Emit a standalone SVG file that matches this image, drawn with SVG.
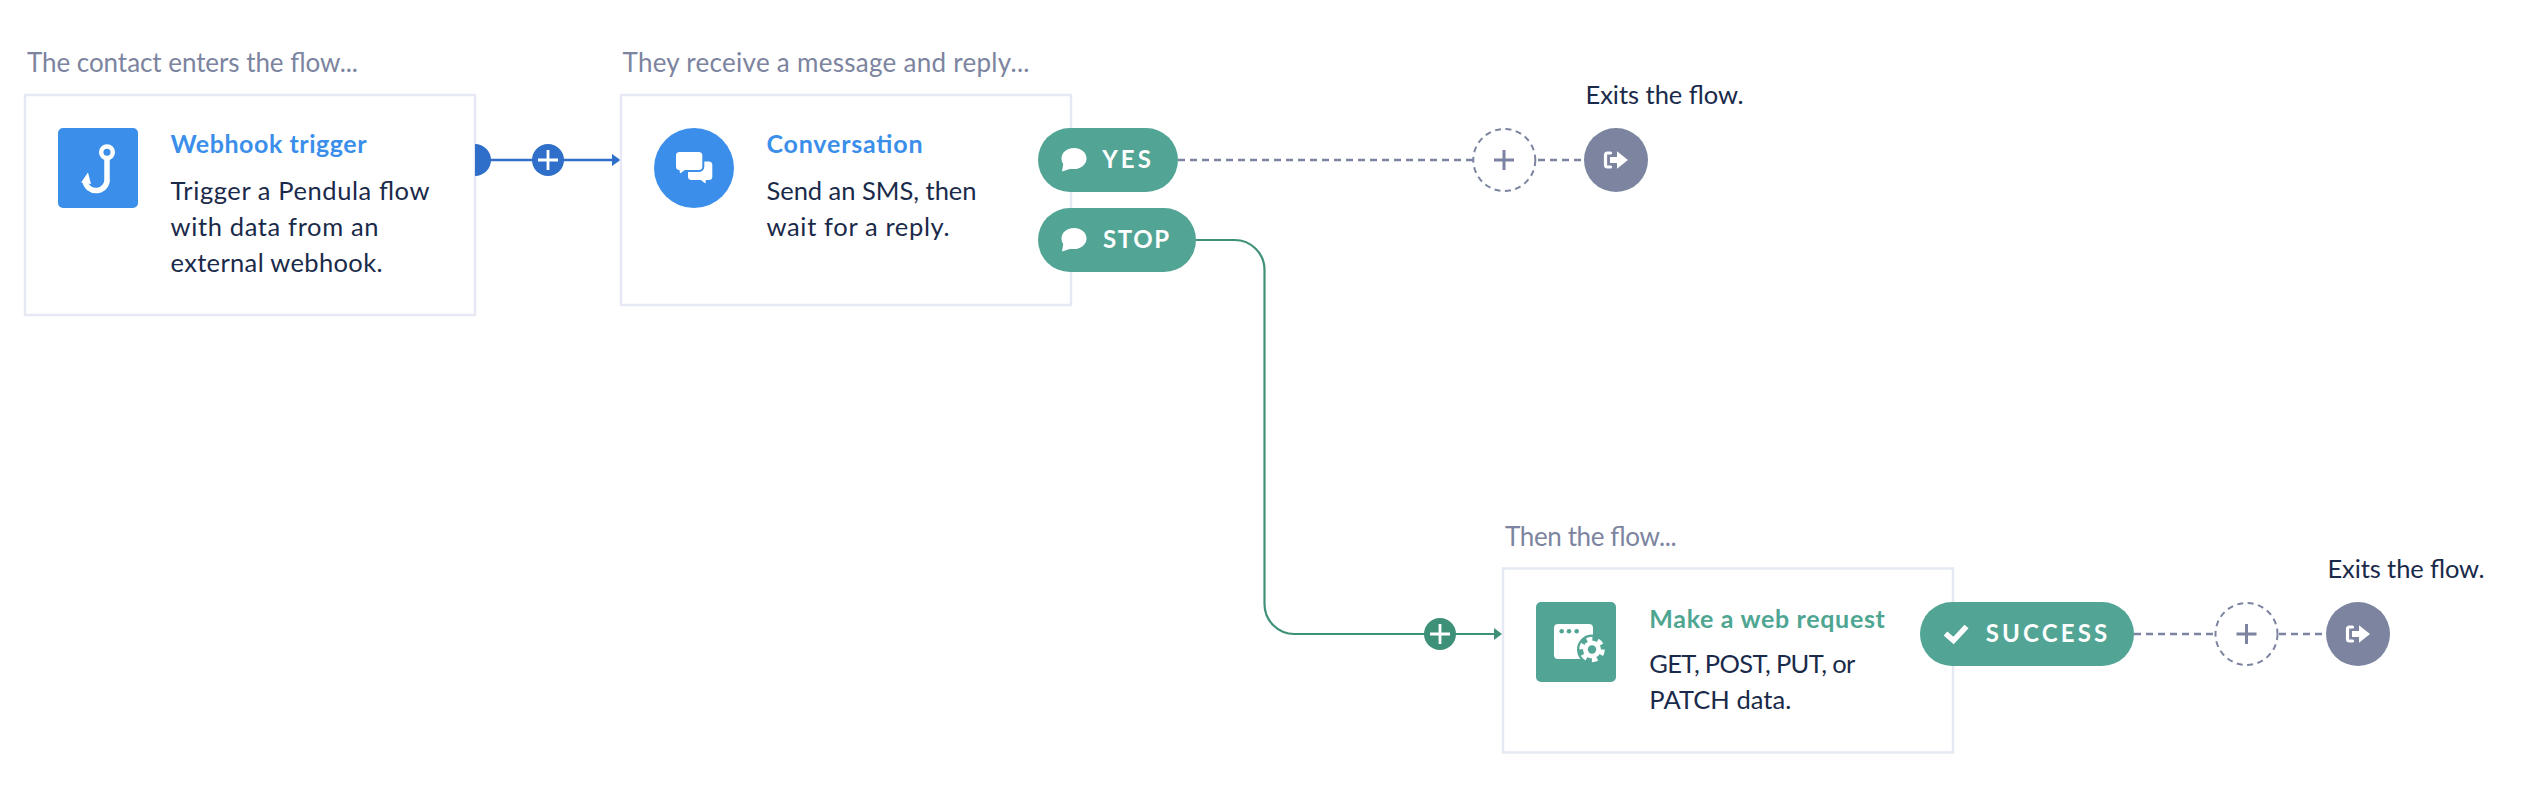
<svg xmlns="http://www.w3.org/2000/svg" width="2532" height="800" viewBox="0 0 2532 800">
<style>
text{font-family:"Lato","Open Sans","Liberation Sans",sans-serif;font-size:25.5px}
.cap{fill:#7c84a0;font-size:26px}
.body{fill:#1a2a4a}
.title{font-weight:700;font-size:25px}
.blue{fill:#3b8fea}
.tgreen{fill:#4ea692}
.box{fill:#fff;stroke:#e6e9f3;stroke-width:2.5}
.pill{fill:#52a595}
.ptxt{fill:#fff;font-weight:700;font-size:24px}
.exit{fill:#7c84a0}
.solidb{fill:none;stroke:#2f6fc9;stroke-width:2.5}
.solidg{fill:none;stroke:#3f9079;stroke-width:2.2}
.dash{fill:none;stroke:#7c84a0;stroke-width:2.5;stroke-dasharray:7 5}
.dcirc{fill:#fff;stroke:#7c84a0;stroke-width:2;stroke-dasharray:6 4.5}
.plusg{stroke:#7c84a0;stroke-width:3;fill:none}
.plusw{stroke:#fff;stroke-width:2.8;fill:none}
</style>
<defs>
<g id="bubble"><ellipse cx="0" cy="-1" rx="12.5" ry="10.5" fill="#fff"/><path d="M-10.5,3 L-12,12 L-1,8.5 Z" fill="#fff"/></g>
<g id="exiticon"><path d="M-5.5,-7 H-8.5 Q-10.5,-7 -10.5,-5 V5 Q-10.5,7 -8.5,7 H-5.5" fill="none" stroke="#fff" stroke-width="3.2" stroke-linecap="round"/><path d="M-6,-2.9 H1 V-8.8 L12,0 L1,8.8 V2.9 H-6 Z" fill="#fff"/></g>
<path id="plus" d="M-10,0 H10 M0,-10 V10"/>
</defs>
<rect width="2532" height="800" fill="#fff"/>

<g id="connectors">
<path class="solidb" d="M490,160 H613"/>
<path d="M612,154 L620.5,160 L612,166 Z" fill="#2f6fc9"/>
<path class="dash" d="M1178,160 H1473"/>
<path class="dash" d="M1538,160 H1581"/>
<path class="solidg" d="M1196,240 H1234.5 A30,30 0 0 1 1264.5,270 V604 A30,30 0 0 0 1294.5,634 H1495"/>
<path d="M1494,628 L1502,634 L1494,640 Z" fill="#3f9079"/>
<path class="dash" d="M2134,634 H2215"/>
<path class="dash" d="M2279,634 H2326"/>
</g>

<g id="node-webhook">
<text class="cap" x="27" y="72" textLength="331">The contact enters the flow...</text>
<rect class="box" x="25" y="95" width="450" height="220"/>
<rect x="58" y="128" width="80" height="80" rx="5" fill="#3b8fea"/>
<circle cx="107" cy="152.3" r="5.8" fill="none" stroke="#fff" stroke-width="4.5"/>
<path d="M107,158 V178 A11,11 0 0 1 85,181" fill="none" stroke="#fff" stroke-width="5.5"/>
<path d="M81,182.5 L88,172.5 L91,184 Z" fill="#fff"/>
<text class="title blue" x="170.5" y="153" textLength="196">Webhook trigger</text>
<text class="body" x="170.5" y="200" textLength="259">Trigger a Pendula flow</text>
<text class="body" x="170.5" y="236" textLength="208">with data from an</text>
<text class="body" x="170.5" y="272" textLength="212">external webhook.</text>
<path d="M475,144 A16,16 0 0 1 475,176 Z" fill="#2f6fc9"/>
</g>

<g id="add-1">
<circle cx="548" cy="160" r="16" fill="#2f6fc9"/>
<use href="#plus" x="548" y="160" class="plusw"/>
</g>

<g id="node-conversation">
<text class="cap" x="622.5" y="72" textLength="407">They receive a message and reply...</text>
<rect class="box" x="621" y="95" width="450" height="210"/>
<circle cx="694" cy="168" r="40" fill="#3b8fea"/>
<rect x="688" y="161.5" width="24.3" height="18.5" rx="3.5" fill="#fff"/>
<path d="M698,178 L705.5,183.5 L706,178 Z" fill="#fff"/>
<rect x="675" y="151" width="28.3" height="20" rx="4.5" fill="#fff" stroke="#3b8fea" stroke-width="2"/>
<path d="M679.5,170 L680,173.5 L685,170 Z" fill="#fff"/>
<text class="title blue" x="766.5" y="153" textLength="156">Conversation</text>
<text class="body" x="766.5" y="200" textLength="210">Send an SMS, then</text>
<text class="body" x="766.5" y="236" textLength="183">wait for a reply.</text>
</g>

<g id="branch-yes">
<rect class="pill" x="1038" y="128" width="140" height="64" rx="32"/>
<use href="#bubble" x="1074" y="159.5"/>
<text class="ptxt" x="1102.3" y="168.3" textLength="48.5">YES</text>
</g>

<g id="branch-stop">
<rect class="pill" x="1038" y="208" width="158" height="64" rx="32"/>
<use href="#bubble" x="1074" y="239.5"/>
<text class="ptxt" x="1103" y="248.3" textLength="66">STOP</text>
</g>

<g id="add-2">
<circle class="dcirc" cx="1504.3" cy="160" r="31"/>
<use href="#plus" x="1504" y="160" class="plusg"/>
</g>

<g id="exit-1">
<text class="body" x="1585.5" y="104" textLength="158">Exits the flow.</text>
<circle class="exit" cx="1616" cy="160" r="32"/>
<use href="#exiticon" x="1616" y="160"/>
</g>

<g id="add-3">
<circle cx="1440" cy="634" r="16" fill="#3f9079"/>
<use href="#plus" x="1440" y="634" class="plusw"/>
</g>

<g id="node-webrequest">
<text class="cap" x="1505" y="545.7" textLength="171.6">Then the flow...</text>
<rect class="box" x="1503" y="568.5" width="450" height="184"/>
<rect x="1536" y="602" width="80" height="80" rx="5" fill="#52a595"/>
<rect x="1554" y="624" width="39" height="35" rx="4" fill="#fff"/>
<circle cx="1561.7" cy="631.3" r="2.3" fill="#52a595"/>
<circle cx="1569" cy="631.3" r="2.3" fill="#52a595"/>
<circle cx="1576.7" cy="631.3" r="2.3" fill="#52a595"/>
<circle cx="1592" cy="649.5" r="15" fill="#52a595"/>
<circle cx="1592" cy="649.5" r="9" fill="#fff"/>
<circle cx="1592" cy="649.5" r="10.5" fill="none" stroke="#fff" stroke-width="4.5" stroke-dasharray="5.5 5.5"/>
<circle cx="1592" cy="649.5" r="4.2" fill="#52a595"/>
<text class="title tgreen" x="1649.3" y="627.7" textLength="235.6">Make a web request</text>
<text class="body" x="1649.3" y="673" textLength="206">GET, POST, PUT, or</text>
<text class="body" x="1649.3" y="709" textLength="142">PATCH data.</text>
</g>

<g id="branch-success">
<rect class="pill" x="1920" y="602" width="214" height="64" rx="32"/>
<path d="M1945.5,633.5 L1953.5,640.5 L1966.5,626.5" fill="none" stroke="#fff" stroke-width="5.5"/>
<text class="ptxt" x="1985.7" y="641.7" textLength="121.5">SUCCESS</text>
</g>

<g id="add-4">
<circle class="dcirc" cx="2246.5" cy="634" r="31"/>
<use href="#plus" x="2246.5" y="634" class="plusg"/>
</g>

<g id="exit-2">
<text class="body" x="2327.5" y="577.7" textLength="157">Exits the flow.</text>
<circle class="exit" cx="2358" cy="634" r="32"/>
<use href="#exiticon" x="2358" y="634"/>
</g>
</svg>
